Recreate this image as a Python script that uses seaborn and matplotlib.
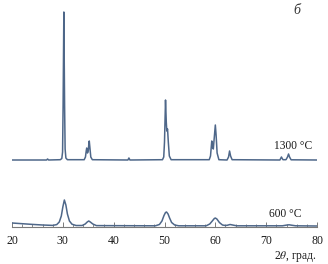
import matplotlib
matplotlib.use('Agg')
import matplotlib.pyplot as plt
from matplotlib.ticker import MultipleLocator
import seaborn as sns
import pandas

# XRD patterns (intensity in arbitrary units, offset stacked)
theta_1300 = [20, 26.8, 27.0, 27.2, 29.5, 29.8, 29.95, 30.05, 30.2, 30.35, 30.45, 30.6, 30.9,
              34.2, 34.45, 34.6, 34.7, 34.85, 35.0, 35.1, 35.2, 35.35, 35.5, 35.8,
              42.8, 43.0, 43.2, 49.6, 49.85, 50.0, 50.2, 50.35, 50.45, 50.6, 50.75, 50.95, 51.3,
              58.8, 59.05, 59.2, 59.3, 59.45, 59.6, 59.8, 60.0, 60.15, 60.35, 60.7,
              62.3, 62.6, 62.8, 63.0, 63.3, 72.7, 73.0, 73.3, 73.9, 74.2, 74.4, 74.6, 74.9, 80]
int_1300 = [67, 67, 68, 67, 67.3, 68.5, 75, 120, 215, 120, 78, 69, 67.3,
            67.3, 70, 76, 79, 74, 76, 82, 86, 78, 70, 67.3,
            67, 69, 67, 67.3, 70, 85, 127, 105, 96, 98, 85, 71, 67.3,
            67.3, 71, 80, 86, 80, 78, 90, 102, 92, 74, 67.3,
            67, 70, 76, 71, 67.3, 67, 70, 67.3, 67.3, 70, 73, 70, 67.2, 67]

theta_600 = [20, 22, 24, 26, 28, 28.8, 29.3, 29.7, 30.0, 30.3, 30.6, 30.9, 31.3, 31.8, 32.6,
             33.8, 34.4, 34.8, 35.1, 35.4, 35.9, 36.6,
             48.2, 49.0, 49.5, 49.9, 50.2, 50.4, 50.7, 51.0, 51.4, 52.0, 52.8,
             58.2, 58.9, 59.4, 59.8, 60.0, 60.3, 60.8, 61.4, 62.0,
             62.4, 62.9, 63.4, 64.2, 73.2, 74.0, 74.5, 75.0, 75.8, 80]
int_600 = [4, 3.3, 2.6, 2, 1.6, 2.4, 5, 11, 20, 27, 22, 13, 6, 2.8, 1.5,
           1.5, 3, 5, 6, 5, 3, 1.4,
           1.2, 2.5, 6, 11.5, 14.5, 15, 13, 9, 4.5, 2, 1.2,
           1.2, 3, 6, 8.5, 9, 8, 4.5, 2, 1.5,
           1.8, 2.5, 2, 1.2, 1.2, 1.9, 2.2, 1.8, 1.2, 1]

sns.set_style('white')
plt.rcParams['font.family'] = ['Liberation Serif', 'DejaVu Serif']
plt.rcParams['mathtext.fontset'] = 'stix'

fig = plt.figure(figsize=(3.28, 2.64), dpi=100)
ax = fig.add_axes([12 / 328, 37 / 264, 305 / 328, 219 / 264])

line_color = '#4e6789'
df_1300 = pandas.DataFrame({'theta': theta_1300, 'intensity': int_1300})
df_600 = pandas.DataFrame({'theta': theta_600, 'intensity': int_600})
sns.lineplot(df_1300, x='theta', y='intensity', sort=False, color=line_color, linewidth=1.1, ax=ax)
sns.lineplot(df_600, x='theta', y='intensity', sort=False, color=line_color, linewidth=1.1, ax=ax)

ax.set_xlim(20, 80)
ax.set_ylim(0, 219)
ax.set_xlabel('')
ax.set_ylabel('')
ax.set_yticks([])
for side in ['left', 'top', 'right']:
    ax.spines[side].set_visible(False)
ax.spines['bottom'].set_color('#7a7a7a')
ax.spines['bottom'].set_linewidth(0.8)

ax.xaxis.set_major_locator(MultipleLocator(10))
ax.xaxis.set_minor_locator(MultipleLocator(2))
ax.tick_params(axis='x', which='major', direction='in', length=3.5, width=0.7,
               color='#7a7a7a', labelsize=8.5, pad=6, bottom=True, labelcolor='#1a1a1a')
ax.tick_params(axis='x', which='minor', direction='in', length=2, width=0.6,
               color='#7a7a7a', bottom=True)

ax.text(71.6, 81, '1300 °C', fontsize=8.3, va='center', ha='left', color='#1a1a1a')
ax.text(70.6, 13, '600 °C', fontsize=8.3, va='center', ha='left', color='#1a1a1a')
ax.text(76.1, 216, 'б', fontsize=10, style='italic', va='center', ha='center', color='#333333')
fig.text(317 / 328, 7 / 264, r'2$\mathit{\theta}$, град.', fontsize=8.3, ha='right', va='center',
         color='#1a1a1a')

fig.savefig('out.png', dpi=100)
